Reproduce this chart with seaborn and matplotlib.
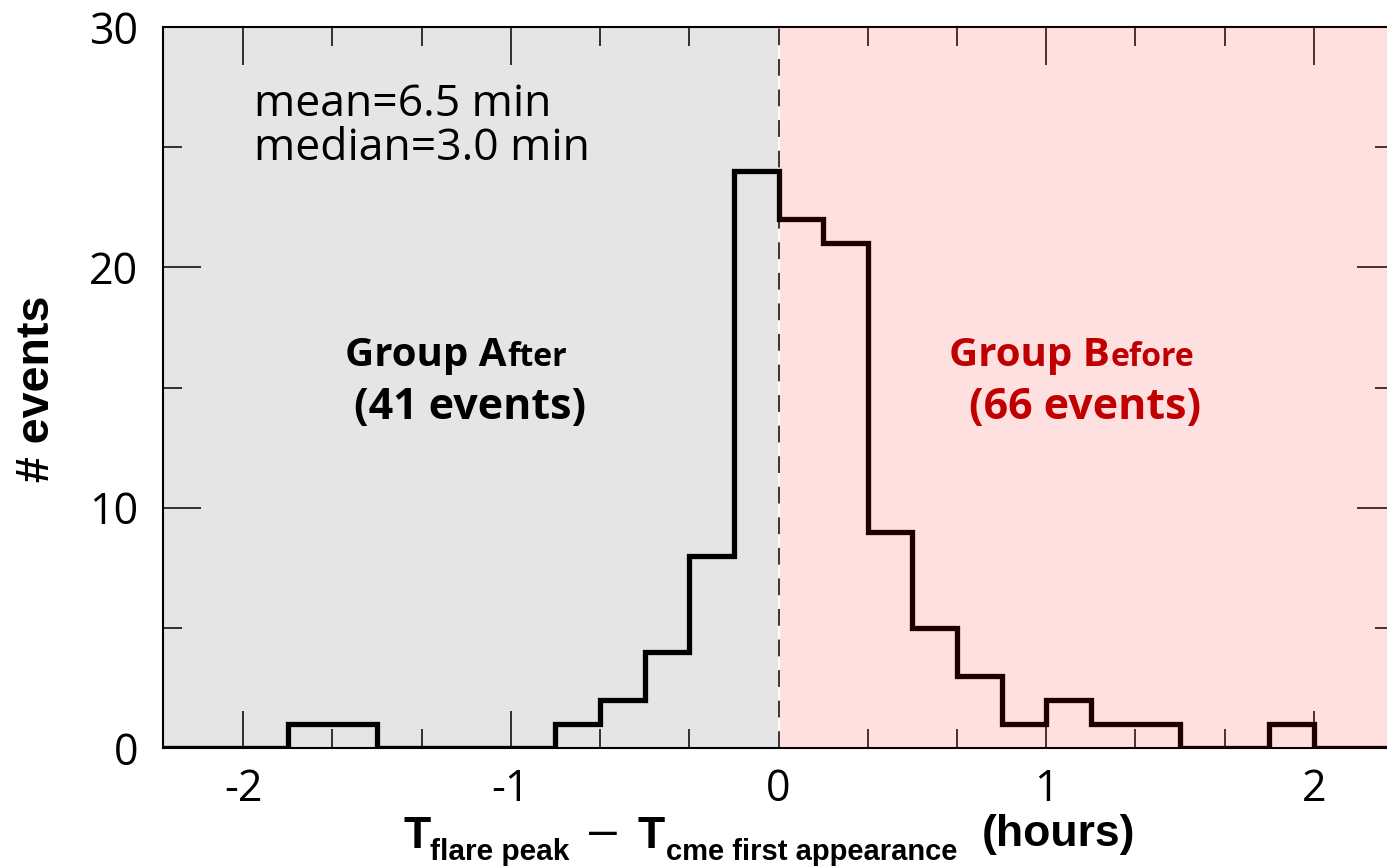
import numpy as np
import pandas as pd
import seaborn as sns
import matplotlib.pyplot as plt
from matplotlib.ticker import MultipleLocator

# histogram: 10-minute bins (in hours) from -2.5 h to +2.5 h
bin_width = 1 / 6
bin_range = (-2.5, 2.5)
counts = [0, 0, 0, 0, 1, 1, 0, 0, 0, 0,
          1, 2, 4, 8, 24, 22, 21, 9, 5, 3,
          1, 2, 1, 1, 0, 0, 1, 0, 0, 0]
bin_centers = bin_range[0] + bin_width * (np.arange(len(counts)) + 0.5)

stats_lines = ["mean=6.5 min", "median=3.0 min"]
group_a = ("Group A", "fter", "(41 events)")
group_b = ("Group B", "efore", "(66 events)")

data = pd.DataFrame({'dt': bin_centers, 'n': counts})

W, H = 1387, 867
sns.set_theme(style="white")
plt.rcParams['font.family'] = ['Open Sans', 'DejaVu Sans']
plt.rcParams['axes.unicode_minus'] = False
plt.rcParams['text.color'] = 'black'
plt.rcParams['xtick.color'] = 'black'
plt.rcParams['ytick.color'] = 'black'

fig = plt.figure(figsize=(W / 100, H / 100), dpi=100)
ax = fig.add_axes([163 / W, 1 - 748 / H, (1394 - 163) / W, (748 - 27) / H])


def fpos(x, y):
    # pixel position -> figure fraction
    return x / W, 1 - y / H


# shaded regions and the t=0 divider
ax.axvspan(-2.3, 0, color='#e5e5e5', lw=0, zorder=0)
ax.axvline(0, color='white', lw=2.2, zorder=1)
ax.axvline(0, color='black', lw=1.1, ls=(0, (11, 9)), zorder=2)

sns.histplot(data=data, x='dt', weights='n', binwidth=bin_width, binrange=bin_range,
             element='step', fill=False, color='black', lw=3.8, ax=ax, zorder=3)
for ln in ax.lines[2:]:
    ln.set_solid_joinstyle('miter')
    ln.set_solid_capstyle('projecting')

ax.axvspan(0.004, 2.3, color='red', alpha=0.12, lw=0, zorder=4)

ax.set_xlim(-2.3, 2.3)
ax.set_ylim(0, 30)
ax.xaxis.set_major_locator(MultipleLocator(1))
ax.xaxis.set_minor_locator(MultipleLocator(1 / 3))
ax.yaxis.set_major_locator(MultipleLocator(10))
ax.yaxis.set_minor_locator(MultipleLocator(5))
ax.tick_params(which='both', direction='in', top=True, right=True,
               bottom=True, left=True, colors='black', width=1.1)
ax.tick_params(which='major', length=27, labelsize=31)
ax.tick_params(which='minor', length=14)
ax.tick_params(axis='y', which='major', pad=18)
ax.tick_params(axis='x', which='major', pad=14)
for sp in ax.spines.values():
    sp.set_linewidth(1.5)
    sp.set_color('black')
ax.set_xlabel('')
ax.set_ylabel('')

# stats text
ax.text(-1.959, 26.29, stats_lines[0], fontsize=32, va='baseline', ha='left', zorder=7)
ax.text(-1.959, 24.46, stats_lines[1], fontsize=32, va='baseline', ha='left', zorder=7)

# group labels
for grp, xr, xc, col in [(group_a, -1.017, -1.151, 'black'),
                         (group_b, 1.237, 1.144, '#c00000')]:
    ax.text(xr, 15.875, grp[0], fontsize=29, fontweight='bold', color=col,
            ha='right', va='baseline', zorder=7)
    ax.text(xr + 0.004, 15.875, grp[1], fontsize=23, fontweight='bold', color=col,
            ha='left', va='baseline', zorder=7)
    ax.text(xc, 13.67, grp[2], fontsize=31, fontweight='bold', color=col,
            ha='center', va='baseline', zorder=7)

# axis labels
lab = dict(family=['Liberation Sans', 'DejaVu Sans'], fontweight='bold',
           va='baseline', ha='left', color='black')
fig.text(*fpos(403, 848), 'T', fontsize=32, **lab)
fig.text(*fpos(430, 860), 'flare peak', fontsize=21.5, **lab)
fig.text(*fpos(589, 846), '\u2013', fontsize=36,
         **{**lab, 'fontweight': 'normal'})
fig.text(*fpos(637, 848), 'T', fontsize=32, **lab)
fig.text(*fpos(666, 860), 'cme first appearance', fontsize=21, **lab)
fig.text(*fpos(982, 846), '(hours)', fontsize=32, **lab)

fig.text(*fpos(37, 389), '# events', fontsize=33.5, rotation=90,
         family=['Liberation Sans', 'DejaVu Sans'], fontweight='bold',
         ha='center', va='center')

fig.savefig('out.png', dpi=100)
